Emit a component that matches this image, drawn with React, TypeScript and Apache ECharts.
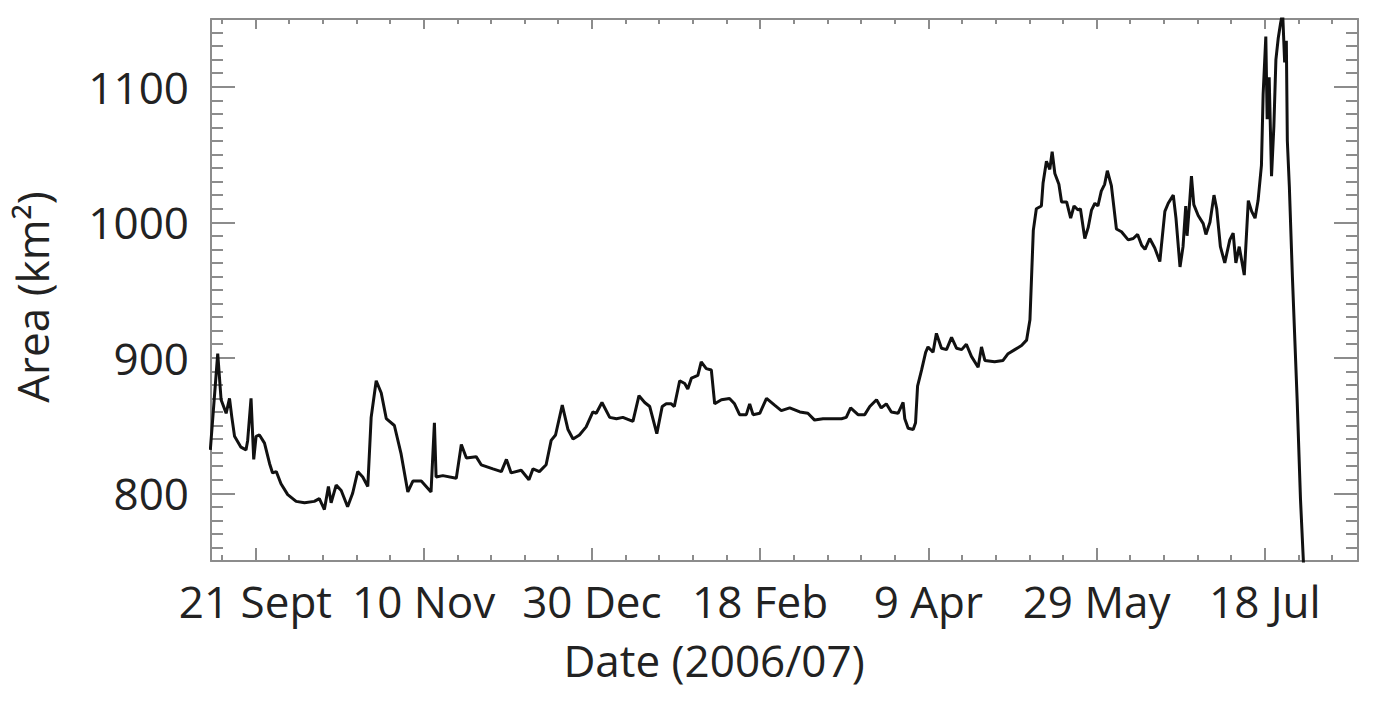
import React, { useEffect, useRef } from "react";
import * as echarts from "echarts";

// Day offset from 21 Sept 2006
const days = [
  -13.4, -11.2, -10.2, -8.7, -7.7, -7.0, -6.2, -4.3, -2.8, -2.3, -1.3, -0.5, 0.2, 1.2, 2.7, 4.2, 5.1, 6.2, 7.6, 9.6,
  12.1, 14.6, 17.5, 19.0, 20.5, 21.7, 22.5, 24.0, 25.5, 27.4, 28.9, 30.4, 31.9, 33.4, 34.4, 35.9, 37.4, 38.9, 41.3, 43.3,
  45.3, 46.8, 49.3, 52.2, 53.2, 53.7, 55.7, 59.7, 61.2, 62.7, 65.6, 67.1, 70.6, 73.1, 74.6, 76.0, 79.0, 81.3, 82.5, 84.4,
  86.4, 87.9, 89.2, 91.2, 92.9, 94.4, 96.3, 98.3, 100.3, 101.3, 103.0, 105.3, 107.3, 109.2, 112.2, 114.0, 115.7, 117.2, 119.3, 120.9,
  122.1, 123.6, 124.5, 126.1, 127.6, 128.5, 129.6, 131.5, 132.5, 134.0, 135.5, 136.5, 138.5, 140.9, 142.4, 143.9, 145.9, 146.9, 147.9, 149.9,
  151.9, 154.3, 156.3, 158.8, 161.8, 164.2, 166.2, 168.7, 171.2, 174.2, 175.6, 176.9, 179.1, 181.1, 182.6, 184.6, 186.0, 187.5, 189.0, 191.0,
  192.5, 193.0, 194.0, 195.5, 196.2, 196.8, 198.0, 199.2, 199.9, 201.4, 202.4, 203.9, 205.4, 206.9, 208.4, 209.9, 211.3, 212.8, 214.8, 215.8,
  216.8, 219.7, 222.2, 223.7, 225.7, 227.7, 229.2, 230.2, 231.2, 232.1, 233.6, 234.1, 235.1, 236.1, 236.8, 237.6, 238.8, 239.6, 241.1, 242.3,
  243.3, 244.5, 245.2, 246.5, 247.5, 248.5, 249.5, 250.4, 251.4, 252.4, 253.2, 254.4, 255.9, 257.4, 259.4, 260.9, 262.2, 263.4, 264.4, 265.8,
  267.3, 268.8, 270.3, 271.3, 272.8, 273.6, 274.8, 275.7, 276.5, 276.9, 277.7, 278.2, 278.9, 280.2, 281.7, 282.5, 283.7, 284.9, 285.7, 286.8,
  288.1, 289.6, 290.6, 291.4, 292.4, 293.9, 295.1, 296.1, 297.1, 298.0, 299.0, 299.5, 300.3, 300.7, 301.3, 302.0, 302.7, 303.3, 304.0, 304.7,
  305.3, 305.9, 306.4, 306.7, 307.3, 308.2, 309.6, 310.6, 311.5,
];

// Area (km²)
const areaKm2 = [
  832, 903, 869, 859, 870, 856, 842, 834, 832, 839, 870, 825, 842, 843, 837, 822, 815, 816, 807, 799,
  794, 793, 794, 796, 788, 805, 793, 806, 802, 790, 800, 816, 812, 805, 856, 883, 874, 855, 850, 829,
  801, 809, 809, 801, 852, 812, 813, 811, 836, 826, 827, 821, 818, 816, 825, 815, 817, 810, 818, 816,
  821, 839, 843, 865, 847, 840, 843, 849, 860, 859, 867, 856, 855, 856, 853, 872, 867, 864, 844, 864,
  866, 866, 864, 883, 881, 877, 885, 887, 897, 892, 891, 866, 869, 870, 866, 858, 858, 866, 858, 859,
  870, 865, 861, 863, 860, 859, 854, 855, 855, 855, 856, 863, 858, 858, 864, 869, 863, 866, 860, 859,
  867, 855, 848, 847, 852, 879, 891, 904, 908, 904, 918, 907, 906, 915, 907, 906, 910, 901, 893, 908,
  898, 897, 898, 903, 906, 909, 913, 928, 994, 1010, 1012, 1029, 1045, 1039, 1052, 1036, 1028, 1015, 1015, 1003,
  1012, 1009, 1010, 988, 996, 1009, 1014, 1012, 1023, 1028, 1038, 1027, 995, 993, 987, 988, 991, 983, 980, 988,
  981, 971, 1008, 1014, 1020, 1003, 967, 982, 1012, 990, 1016, 1034, 1013, 1005, 999, 991, 1000, 1020, 1010, 982,
  970, 987, 992, 970, 982, 961, 1016, 1008, 1003, 1016, 1042, 1094, 1137, 1076, 1107, 1034, 1071, 1120, 1136, 1147,
  1155, 1118, 1134, 1060, 1026, 960, 870, 796, 748,
];

const majorDays = [0, 50, 100, 150, 200, 250, 300];
const dateLabels = ["21 Sept", "10 Nov", "30 Dec", "18 Feb", "9 Apr", "29 May", "18 Jul"];
const minorDays = [-10, 10, 20, 30, 40, 60, 70, 80, 90, 110, 120, 130, 140, 160, 170, 180, 190, 210, 220, 230, 240, 260, 270, 280, 290, 310, 320];
const majorAreas = [800, 900, 1000, 1100];
const areaLabels = ["800", "900", "1000", "1100"];
const minorAreas = [
  760, 770, 780, 790, 810, 820, 830, 840, 850, 860, 870, 880, 890, 910, 920, 930, 940, 950, 960, 970, 980, 990,
  1010, 1020, 1030, 1040, 1050, 1060, 1070, 1080, 1090, 1110, 1120, 1130, 1140,
];

const X_MIN = -13.2;
const X_MAX = 327.7;
const Y_MIN = 750;
const Y_MAX = 1150;

const FONT = "'Open Sans', 'DejaVu Sans', sans-serif";
const AXIS_COLOR = "#8c8c8c";
const TEXT_COLOR = "#222";

function xAxisDef(position: "top" | "bottom", ticks: number[], len: number, showLine: boolean, labels: boolean) {
  return {
    type: "value",
    position,
    min: X_MIN,
    max: X_MAX,
    axisLine: { show: showLine, onZero: false, lineStyle: { color: AXIS_COLOR, width: 2 } },
    axisTick: { show: true, inside: true, length: len, customValues: ticks, lineStyle: { color: AXIS_COLOR, width: 2 } },
    axisLabel: labels
      ? {
          show: true,
          customValues: majorDays,
          margin: 18,
          fontSize: 44,
          fontFamily: FONT,
          color: TEXT_COLOR,
          formatter: (v: number) => {
            const i = majorDays.findIndex((d) => Math.abs(d - v) < 0.01);
            return i >= 0 ? dateLabels[i] : "";
          },
        }
      : { show: false },
    splitLine: { show: false },
  };
}

function yAxisDef(position: "left" | "right", ticks: number[], len: number, showLine: boolean, labels: boolean) {
  return {
    type: "value",
    position,
    min: Y_MIN,
    max: Y_MAX,
    axisLine: { show: showLine, onZero: false, lineStyle: { color: AXIS_COLOR, width: 2 } },
    axisTick: { show: true, inside: true, length: len, customValues: ticks, lineStyle: { color: AXIS_COLOR, width: 2 } },
    axisLabel: labels
      ? {
          show: true,
          customValues: majorAreas,
          margin: 22,
          fontSize: 44,
          fontFamily: FONT,
          color: TEXT_COLOR,
          formatter: (v: number) => {
            const i = majorAreas.findIndex((a) => Math.abs(a - v) < 0.01);
            return i >= 0 ? areaLabels[i] : "";
          },
        }
      : { show: false },
    splitLine: { show: false },
  };
}

export default function App() {
  const ref = useRef<HTMLDivElement>(null);

  useEffect(() => {
    if (!ref.current) return;
    const chart = echarts.init(ref.current, null, { renderer: "svg" });
    const data = days.map((d, i) => [d, areaKm2[i]]);
    chart.setOption({
      animation: false,
      backgroundColor: "#ffffff",
      grid: { left: 211, right: 42, top: 19, bottom: 148 },
      xAxis: [
        xAxisDef("bottom", majorDays, 13, true, true),
        xAxisDef("bottom", minorDays, 6, false, false),
        xAxisDef("top", majorDays, 10, true, false),
        xAxisDef("top", minorDays, 5, false, false),
      ],
      yAxis: [
        yAxisDef("left", majorAreas, 24, true, true),
        yAxisDef("left", minorAreas, 12, false, false),
        yAxisDef("right", majorAreas, 24, true, false),
        yAxisDef("right", minorAreas, 12, false, false),
      ],
      series: [
        {
          type: "line",
          xAxisIndex: 0,
          yAxisIndex: 0,
          data,
          showSymbol: false,
          clip: true,
          lineStyle: { color: "#111", width: 3 },
        },
      ],
      graphic: [
        {
          type: "text",
          x: 714,
          y: 660,
          style: {
            text: "Date (2006/07)",
            fontSize: 44,
            fontFamily: FONT,
            fill: TEXT_COLOR,
            textAlign: "center",
            textVerticalAlign: "middle",
          },
        },
        {
          type: "text",
          x: 32,
          y: 297,
          rotation: Math.PI / 2,
          style: {
            text: "Area (km²)",
            fontSize: 44,
            fontFamily: FONT,
            fill: TEXT_COLOR,
            textAlign: "center",
            textVerticalAlign: "middle",
          },
        },
      ],
    });
    return () => chart.dispose();
  }, []);

  return (
    <div
      ref={ref}
      style={{ position: "fixed", left: 0, top: 0, width: 1400, height: 709, background: "#fff" }}
    />
  );
}
